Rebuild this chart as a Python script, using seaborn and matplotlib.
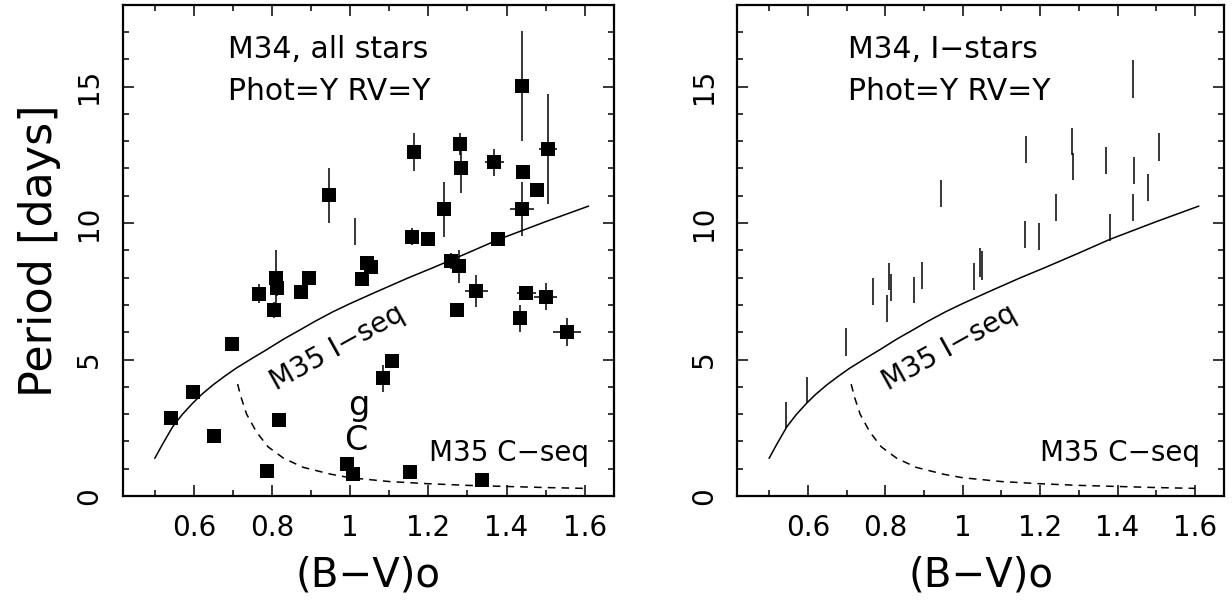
import numpy as np
import pandas as pd
import matplotlib
matplotlib.use("Agg")
import matplotlib.pyplot as plt
import seaborn as sns

# M34, all stars: (B-V)o, period, errors
bv_all = [0.542, 0.597, 0.651, 0.697, 0.788, 0.817, 0.766, 0.810, 0.812, 0.804,
          0.873, 0.894, 0.947, 1.029, 1.044, 1.052, 0.991, 1.007, 1.085, 1.106,
          1.154, 1.162, 1.198, 1.159, 1.239, 1.258, 1.278, 1.273, 1.282, 1.284,
          1.323, 1.337, 1.369, 1.377, 1.434, 1.440, 1.440, 1.442, 1.451, 1.479,
          1.500, 1.506, 1.555]
per_all = [2.87, 3.82, 2.21, 5.56, 0.90, 2.80, 7.41, 8.00, 7.61, 6.81,
           7.47, 8.00, 11.01, 7.96, 8.53, 8.40, 1.16, 0.81, 4.31, 4.96,
           0.89, 12.61, 9.40, 9.50, 10.50, 8.61, 8.42, 6.81, 12.89, 12.00,
           7.51, 0.60, 12.22, 9.41, 6.51, 15.02, 10.51, 11.87, 7.44, 11.21,
           7.30, 12.71, 6.01]
perr_all = [0, 0, 0, 0, 0, 0, 0.35, 1.0, 0.3, 0.3,
            0, 0, 1.0, 0, 0.2, 0, 0, 0, 0.5, 0,
            0, 0.7, 0, 0.3, 1.0, 0.3, 0.6, 0, 0.4, 0.9,
            0.58, 0, 0.5, 0, 0.5, 2.0, 1.0, 0, 0, 0,
            0.5, 2.0, 0.5]
bverr_all = [0, 0, 0, 0, 0, 0, 0, 0, 0, 0,
             0, 0, 0, 0, 0, 0, 0, 0, 0, 0,
             0, 0, 0, 0, 0, 0, 0, 0, 0, 0,
             0.03, 0, 0.025, 0, 0, 0, 0.03, 0, 0.025, 0,
             0.03, 0.022, 0.036]
# star with error bar only
bv_bar = [1.012]
per_bar = [9.68]
perr_bar = [0.49]

# M34, I-stars (drawn as period error bars only)
bv_i = [0.544, 0.599, 0.698, 0.768, 0.805, 0.810, 0.814, 0.873, 0.894, 0.944,
        1.029, 1.045, 1.051, 1.160, 1.164, 1.197, 1.240, 1.282, 1.285, 1.369,
        1.380, 1.439, 1.440, 1.442, 1.478, 1.506]
per_i = [2.97, 3.88, 5.64, 7.49, 6.87, 8.05, 7.65, 7.55, 8.08, 11.09,
         8.04, 8.55, 8.45, 9.58, 12.69, 9.50, 10.58, 12.99, 12.07, 12.30,
         9.84, 15.27, 10.58, 11.93, 11.29, 12.78]
perr_i = [0.49, 0.49, 0.5, 0.49, 0.49, 0.5, 0.5, 0.49, 0.5, 0.49,
          0.49, 0.52, 0.52, 0.5, 0.5, 0.49, 0.5, 0.5, 0.5, 0.5,
          0.49, 0.7, 0.5, 0.5, 0.5, 0.5]

# M35 sequences
iseq_bv = [0.50, 0.52, 0.546, 0.57, 0.597, 0.62, 0.649, 0.68, 0.708, 0.75, 0.785,
           0.83, 0.871, 0.91, 0.956, 1.00, 1.067, 1.15, 1.213, 1.30, 1.38, 1.50, 1.61]
iseq_p = [1.38, 1.90, 2.54, 2.98, 3.40, 3.72, 4.07, 4.40, 4.68, 5.05, 5.35,
          5.75, 6.08, 6.40, 6.75, 7.05, 7.48, 8.00, 8.37, 8.90, 9.40, 10.05, 10.62]
cseq_bv = [0.712, 0.72, 0.735, 0.76, 0.79, 0.83, 0.88, 0.95, 1.00, 1.10, 1.20, 1.30, 1.40, 1.50, 1.60]
cseq_p = [4.10, 3.65, 3.00, 2.35, 1.80, 1.38, 1.05, 0.80, 0.67, 0.53, 0.45, 0.39, 0.35, 0.31, 0.28]

sns.set_style("ticks")
plt.rcParams['font.family'] = ['DejaVu Sans']
plt.rcParams.update({"text.color": "black", "axes.labelcolor": "black",
                     "xtick.color": "black", "ytick.color": "black",
                     "axes.edgecolor": "black"})

fig = plt.figure(figsize=(12.32, 6.0), dpi=100)
ax1 = fig.add_axes([0.0996, 0.1733, 0.3988, 0.819])
ax2 = fig.add_axes([0.5985, 0.1733, 0.3950, 0.819])

df_all = pd.DataFrame({"bv": bv_all, "P": per_all})
df_iseq = pd.DataFrame({"bv": iseq_bv, "P": iseq_p})
df_cseq = pd.DataFrame({"bv": cseq_bv, "P": cseq_p})

for ax in (ax1, ax2):
    sns.lineplot(data=df_iseq, x="bv", y="P", ax=ax, color="black", lw=1.1,
                 sort=False, estimator=None)
    sns.lineplot(data=df_cseq, x="bv", y="P", ax=ax, color="black", lw=1.1,
                 sort=False, estimator=None, dashes=False, linestyle=(0, (5, 4)))

# left panel
ax1.errorbar(bv_all, per_all, yerr=perr_all, xerr=bverr_all, fmt="none",
             ecolor="black", elinewidth=1.1, capsize=0)
ax1.errorbar(bv_bar, per_bar, yerr=perr_bar, fmt="none", ecolor="black",
             elinewidth=1.1, capsize=0)
sns.scatterplot(data=df_all, x="bv", y="P", ax=ax1, marker="s", s=100,
                color="black", edgecolor="black", linewidth=0, zorder=5)

# right panel
ax2.errorbar(bv_i, per_i, yerr=perr_i, fmt="none", ecolor="black",
             elinewidth=1.1, capsize=0)

fs = 21.5
ax1.text(0.688, 16.35, "M34, all stars", fontsize=fs, va="center")
ax1.text(0.688, 14.83, "Phot=Y RV=Y", fontsize=fs, va="center")
ax2.text(0.704, 16.35, "M34, I\u2212stars", fontsize=fs, va="center")
ax2.text(0.704, 14.83, "Phot=Y RV=Y", fontsize=fs, va="center")
ax1.text(1.022, 3.33, "g", fontsize=24, ha="center", va="center")
ax1.text(1.015, 2.05, "C", fontsize=24, ha="center", va="center")

for ax in (ax1, ax2):
    ax.text(1.407, 1.57, "M35 C\u2212seq", fontsize=20, ha="center", va="center")
    ax.text(0.966, 5.45, "M35 I\u2212seq", fontsize=20, ha="center", va="center",
            rotation=29)
    ax.set_xlim(0.418, 1.675)
    ax.set_ylim(0, 18)
    ax.set_xticks([0.6, 0.8, 1.0, 1.2, 1.4, 1.6])
    ax.set_xticklabels(["0.6", "0.8", "1", "1.2", "1.4", "1.6"])
    ax.set_xticks(np.arange(0.5, 1.65, 0.1), minor=True)
    ax.set_yticks([0, 5, 10, 15])
    ax.set_yticks(range(0, 19), minor=True)
    ax.tick_params(which="both", direction="in", top=True, right=True,
                   color="black", width=1.1)
    ax.tick_params(which="major", length=8, labelsize=20)
    ax.tick_params(which="minor", length=4)
    ax.tick_params(axis="x", which="major", pad=13)
    ax.tick_params(axis="y", which="major", pad=14, labelrotation=90)
    for lab in ax.get_yticklabels():
        lab.set_va("center")
    for sp in ax.spines.values():
        sp.set_linewidth(1.6)
        sp.set_color("black")
    ax.set_xlabel("(B\u2212V)o", fontsize=29, labelpad=10)
    ax.set_ylabel("")

ax1.set_ylabel("Period [days]", fontsize=32, labelpad=10)

fig.savefig("out.png", dpi=100)
